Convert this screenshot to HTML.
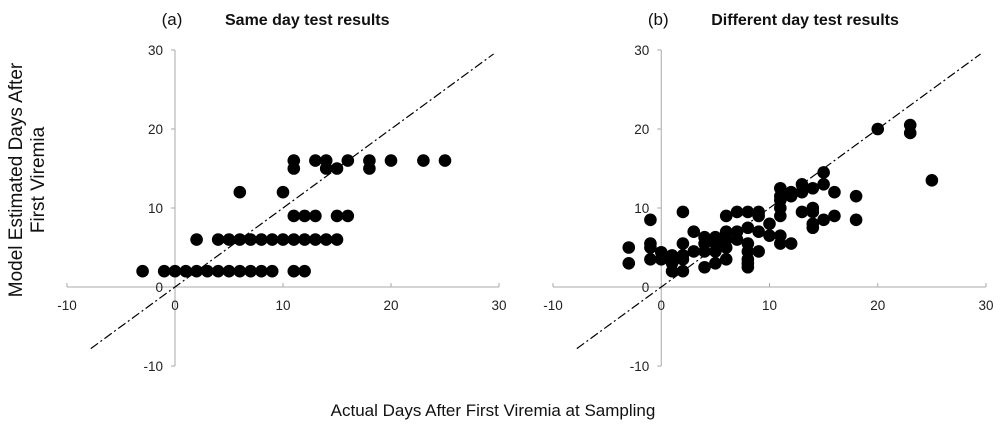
<!DOCTYPE html>
<html><head><meta charset="utf-8"><style>
body{margin:0;background:#fff;}
svg{display:block;font-family:"Liberation Sans",Arial,sans-serif;}
</style></head><body>
<svg id="chart" width="1000" height="425" viewBox="0 0 1000 425">
<text x="0" y="0" transform="translate(23,180) rotate(-90)" text-anchor="middle" font-size="19" fill="#111"><tspan x="0" dy="-1">Model Estimated Days After</tspan><tspan x="0" dy="22">First Viremia</tspan></text>
<text x="493" y="416" text-anchor="middle" font-size="17" fill="#111">Actual Days After First Viremia at Sampling</text>
</svg>
<script>
const ticks = [-10, 0, 10, 20, 30];
const aX = [-3,-1,0,1,2,3,4,5,6,7,8,9,11,12, 2,4,5,6,7,8,9,10,11,12,13,14,15, 11,12,13,15,16, 6,10, 11,14,15,18, 11,13,14,16,18,20,23,25];
const aY = [2,2,2,2,2,2,2,2,2,2,2,2,2,2, 6,6,6,6,6,6,6,6,6,6,6,6,6, 9,9,9,9,9, 12,12, 15,15,15,15, 16,16,16,16,16,16,16,16];
const bX = [-3,-3,-1,-1,-1,-1,0,0,1,1,1,2,2,2,2,2,3,3,4,4,4,4,5,5,5,5,6,6,6,6,6,7,7,7,8,8,8,8,8,8,8,9,9,9,9,10,10,11,11,11,11,11,11,11,12,12,12,13,13,13,14,14,14,14,14,15,15,15,16,16,18,18,20,23,23,25];
const bY = [5,3,8.5,5.5,5,3.5,4.4,3.5,4,3,2,9.5,5.5,4,3.5,2,7,4.5,6.3,5.5,4.5,2.5,6.3,5.5,4.5,3,9,7,6,5,3.5,9.5,7,6,9.5,7.5,5.5,4.5,3.5,3,2.5,9.5,9,7,4.5,8,6.5,12.5,11.5,11,10,9,6.5,5.5,12,11.5,5.5,13,12,9.5,12.5,10,9.5,8,7.5,14.5,13,8.5,12,9,11.5,8.5,20,20.5,19.5,13.5];
const lineRange = [-7.8, 29.5];
const NS='http://www.w3.org/2000/svg';
const svg=document.getElementById('chart');
function mk(t,a,p){const e=document.createElementNS(NS,t);for(const k in a)e.setAttribute(k,a[k]);(p||svg).appendChild(e);return e;}
function panel(id,x0,x30,label,title,xs,ys){
  const g=mk('g',{});
  
  
  const sx=v=>x0+(v+10)*(x30-x0)/40;
  const sy=v=>287-v*7.9;
  const t1=mk('text',{x:sx(0)-3,y:25,'font-size':17,fill:'#111','text-anchor':'middle'},g);t1.textContent=label;
  
  
  const t2=mk('text',{x:sx(0)+50,y:25,'font-size':16,'font-weight':'bold',fill:'#111'},g);t2.textContent=title;
  
  
  const xa=mk('line',{x1:sx(-10),x2:sx(30),y1:sy(0),y2:sy(0),stroke:'#aaa','stroke-width':1},g);
  
  
  const ya=mk('line',{x1:sx(0),x2:sx(0),y1:sy(30),y2:sy(-10),stroke:'#aaa','stroke-width':1},g);
  
  
  ticks.forEach(v=>{
    mk('line',{x1:sx(v),x2:sx(v),y1:sy(0),y2:sy(0)-4,stroke:'#aaa'},g);
    mk('line',{x1:sx(0)-4,x2:sx(0),y1:sy(v),y2:sy(v),stroke:'#aaa'},g);
    const xl=mk('text',{x:sx(v),y:sy(0)+23,'font-size':13.5,fill:'#222','text-anchor':'middle'},g);xl.textContent=v;
    
    
    const yl=mk('text',{x:sx(0)-12,y:sy(v)+5,'font-size':13.5,fill:'#222','text-anchor':'end'},g);yl.textContent=v;
    
    
  });
  const ref=mk('line',{x1:sx(lineRange[0]),y1:sy(lineRange[0]),x2:sx(lineRange[1]),y2:sy(lineRange[1]),stroke:'#000','stroke-width':1.2,'stroke-dasharray':'9 3 2 3'},g);
  
  
  xs.forEach((v,i)=>{
    const c=mk('circle',{cx:sx(v),cy:sy(ys[i]),r:6.3,fill:'#000'},g);
    
    
  });
}
panel('a',67,499,'(a)','Same day test results',aX,aY);
panel('b',553,986,'(b)','Different day test results',bX,bY);
</script>
</body></html>
